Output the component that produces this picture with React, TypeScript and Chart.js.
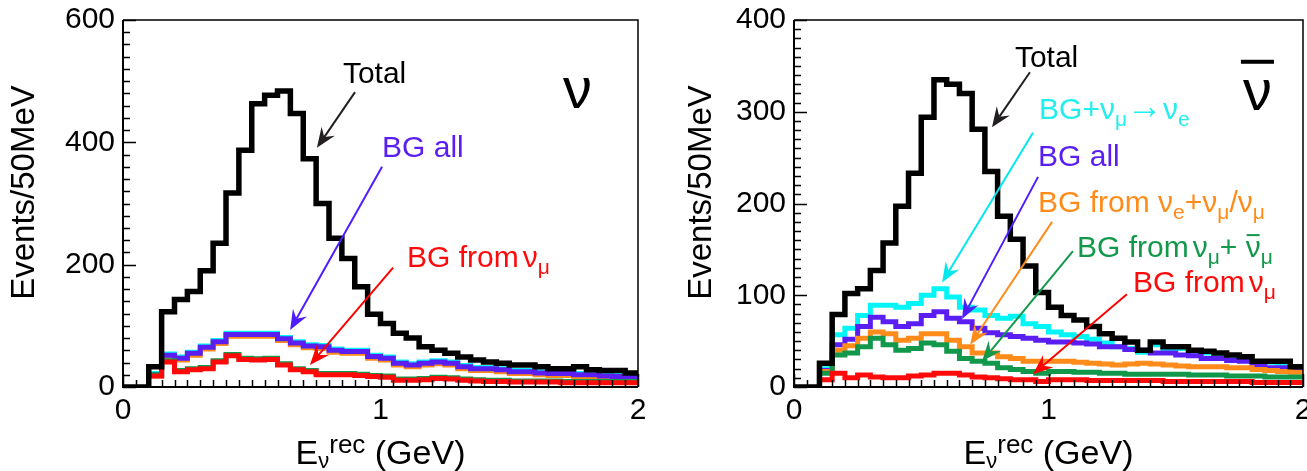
import React, { useEffect, useRef } from 'react';
import { Chart, registerables } from 'chart.js';

Chart.register(...registerables);

const FONT = '"Liberation Sans", Arial, Helvetica, sans-serif';

// ---- bin edges (GeV), 50 MeV bins ----
const binEdges = [0, 0.05, 0.1, 0.15, 0.2, 0.25, 0.3, 0.35, 0.4, 0.45, 0.5, 0.55, 0.6, 0.65, 0.7, 0.75, 0.8, 0.85, 0.9, 0.95, 1, 1.05, 1.1, 1.15, 1.2, 1.25, 1.3, 1.35, 1.4, 1.45, 1.5, 1.55, 1.6, 1.65, 1.7, 1.75, 1.8, 1.85, 1.9, 1.95, 2];

const xTickLabels = [0, 1, 2];
const nuYTicks = [0, 200, 400, 600];
const nbYTicks = [0, 100, 200, 300, 400];

// ---- neutrino mode (left) ----
const nuTotal = [0, 0, 33, 123, 143, 156, 190, 235, 317, 387, 463, 477, 484, 447, 373, 300, 243, 210, 164, 119, 104, 88, 80, 66, 60, 55, 49, 44, 41, 39, 36, 36, 33, 30, 30, 33, 28, 27, 27, 23];
const nuCyan = [null, null, 22, 54, 49, 57, 67, 76, 88, 88, 88, 88, 81, 74, 69, 68, 62, 60, 60, 52, 49, 41, 38, 41, 43, 41, 35, 32, 32, 30, 27, 27, 25, 24, 24, 22, 22, 20, 19, 18];
const nuPurple = [null, null, 20, 52, 47, 55, 65, 74, 86, 86, 86, 86, 79, 72, 67, 66, 60, 58, 58, 50, 47, 39, 36, 39, 41, 39, 33, 30, 30, 28, 25, 25, 23, 22, 22, 20, 20, 18, 17, 16];
const nuOrange = [null, null, 18, 49, 44, 52, 62, 71, 83, 83, 83, 83, 76, 69, 64, 63, 57, 55, 55, 47, 44, 36, 33, 36, 38, 36, 30, 27, 27, 25, 22, 22, 20, 19, 19, 17, 17, 15, 14, 13];
const nuGreen = [null, null, 20, 43, 27, 30, 32, 43, 53, 47, 46, 47, 38, 30, 27, 22, 22, 22, 21, 19, 18, 13, 13, 14, 16, 15, 13, 12, 11, 11, 10, 10, 10, 10, 9, 9, 9, 9, 9, 9];
const nuRed = [null, null, 18, 41, 25, 28, 30, 41, 51, 45, 44, 45, 36, 28, 25, 20, 20, 20, 19, 17, 16, 11, 11, 12, 14, 13, 11, 10, 9, 9, 8, 8, 8, 8, 7, 7, 7, 7, 7, 7];

// ---- antineutrino mode (right) ----
const nbTotal = [0, 0, 26, 79, 102, 107, 127, 157, 197, 233, 294, 335, 330, 320, 281, 235, 186, 161, 132, 103, 87, 78, 73, 66, 58, 53, 49, 40, 49, 44, 44, 40, 39, 37, 35, 33, 28, 28, 28, 22];
const nbCyan = [null, null, 20, 57, 64, 78, 89, 89, 87, 91, 100, 107, 98, 87, 84, 78, 75, 77, 69, 66, 60, 57, 55, 52, 48, 44, 42, 38, 46, 42, 42, 38, 37, 35, 33, 31, 27, 27, 26, 21];
const nbPurple = [null, null, 18, 46, 52, 66, 76, 71, 66, 69, 78, 82, 75, 71, 64, 59, 57, 55, 53, 51, 49, 49, 48, 47, 44, 44, 41, 40, 37, 37, 35, 34, 31, 31, 29, 28, 24, 21, 21, 20];
const nbOrange = [null, null, 17, 40, 45, 53, 60, 58, 51, 53, 58, 58, 51, 44, 37, 37, 33, 31, 28, 28, 28, 28, 27, 26, 25, 24, 25, 26, 25, 24, 23, 22, 22, 22, 21, 21, 19, 18, 17, 16];
const nbGreen = [null, null, 15, 35, 37, 44, 53, 46, 40, 42, 48, 46, 39, 31, 28, 26, 21, 19, 17, 15, 17, 17, 16, 16, 15, 15, 14, 14, 14, 14, 14, 13, 13, 13, 12, 12, 12, 11, 11, 11];
const nbRed = [null, null, 8, 15, 10, 13, 11, 10, 10, 12, 13, 15, 15, 13, 11, 10, 9, 8, 8, 6, 8, 8, 8, 7, 7, 7, 7, 7, 7, 6, 6, 6, 6, 6, 6, 6, 5, 5, 5, 5];

const C_BLACK = '#000000';
const C_CYAN = '#00f6f6';
const C_PURPLE = '#5a1ef2';
const C_ORANGE = '#ff8c1a';
const C_GREEN = '#11984a';
const C_RED = '#ff0a0a';

type Seg = { t: string; s: number; dy?: number; dx?: number; bar?: boolean; barOff?: number; barTh?: number; barExt?: number };
type Ann = { segs: Seg[]; x: number; y: number; color: string };
type Arr = { x1: number; y1: number; x2: number; y2: number; color: string };

const S = 30;
const SUB = 21;
const DY = 7;

const nuAnnotations: Ann[] = [
  { segs: [{ t: 'Total', s: S }], x: 0.854, y: 497, color: C_BLACK },
  { segs: [{ t: 'BG all', s: S }], x: 1.006, y: 376, color: C_PURPLE },
  { segs: [{ t: 'BG from', s: S }, { t: 'ν', s: S, dx: 4 }, { t: 'μ', s: SUB, dy: DY }], x: 1.103, y: 196, color: C_RED },
  { segs: [{ t: 'ν', s: 58 }], x: 1.709, y: 456, color: C_BLACK },
];
const nuArrows: Arr[] = [
  { x1: 0.901, y1: 482, x2: 0.753, y2: 391, color: '#231f20' },
  { x1: 1.006, y1: 360, x2: 0.649, y2: 93, color: '#4f1cff' },
  { x1: 1.049, y1: 195, x2: 0.726, y2: 36, color: '#ff0000' },
];

const nbAnnotations: Ann[] = [
  { segs: [{ t: 'Total', s: S }], x: 0.868, y: 349, color: C_BLACK },
  { segs: [{ t: 'BG+ν', s: S }, { t: 'μ', s: SUB, dy: DY }, { t: '→', s: 36, dy: -1 }, { t: 'ν', s: S }, { t: 'e', s: SUB, dy: DY }], x: 0.963, y: 292, color: '#22eeee' },
  { segs: [{ t: 'BG all', s: S }], x: 0.959, y: 241, color: C_PURPLE },
  { segs: [{ t: 'BG from ν', s: S }, { t: 'e', s: SUB, dy: DY }, { t: '+ν', s: S }, { t: 'μ', s: SUB, dy: DY }, { t: '/ν', s: S }, { t: 'μ', s: SUB, dy: DY }], x: 0.959, y: 191, color: C_ORANGE },
  { segs: [{ t: 'BG from', s: S }, { t: 'ν', s: S, dx: 4 }, { t: 'μ', s: SUB, dy: DY }, { t: '+ ', s: S }, { t: 'ν', s: S, bar: true }, { t: 'μ', s: SUB, dy: DY }], x: 1.112, y: 142, color: C_GREEN },
  { segs: [{ t: 'BG from', s: S }, { t: 'ν', s: S, dx: 4 }, { t: 'μ', s: SUB, dy: DY }], x: 1.332, y: 103, color: C_RED },
  { segs: [{ t: 'ν', s: 58, bar: true, barOff: 0.83, barTh: 4, barExt: 2 }], x: 1.764, y: 302, color: C_BLACK },
];
const nbArrows: Arr[] = [
  { x1: 0.927, y1: 343, x2: 0.778, y2: 283, color: '#231f20' },
  { x1: 0.939, y1: 277, x2: 0.582, y2: 114, color: '#00e8ee' },
  { x1: 0.959, y1: 229, x2: 0.660, y2: 74, color: '#4f1cff' },
  { x1: 1.014, y1: 180, x2: 0.692, y2: 46, color: C_ORANGE },
  { x1: 1.096, y1: 148, x2: 0.739, y2: 28, color: C_GREEN },
  { x1: 1.308, y1: 101, x2: 0.939, y2: 14, color: '#ff0000' },
];

type Series = { label: string; values: (number | null)[]; color: string; width: number };

interface PanelSpec {
  yMax: number;
  yTicks: number[];
  yMinorStep: number;
  yMajorStep: number;
  series: Series[];
  annotations: Ann[];
  arrows: Arr[];
  canvasWidth: number;
  canvasLeft: number;
  yAxisWidth: number;
  padRight: number;
  yTitleOffset: number;
}

const nuSpec: PanelSpec = {
  yMax: 600,
  yTicks: nuYTicks,
  yMinorStep: 20,
  yMajorStep: 200,
  series: [
    { label: 'Total', values: nuTotal, color: C_BLACK, width: 5.5 },
    { label: 'BG from νμ', values: nuRed, color: C_RED, width: 5 },
    { label: 'BG from νμ+ν̄μ', values: nuGreen, color: C_GREEN, width: 5 },
    { label: 'BG all', values: nuPurple, color: C_PURPLE, width: 5 },
    { label: 'BG from νe+νμ/ν̄μ', values: nuOrange, color: C_ORANGE, width: 5 },
    { label: 'BG+νμ→νe', values: nuCyan, color: C_CYAN, width: 5 },
  ],
  annotations: nuAnnotations,
  arrows: nuArrows,
  canvasWidth: 653,
  canvasLeft: 0,
  yAxisWidth: 123,
  padRight: 15,
  yTitleOffset: 98,
};

const nbSpec: PanelSpec = {
  yMax: 400,
  yTicks: nbYTicks,
  yMinorStep: 10,
  yMajorStep: 100,
  series: [
    { label: 'Total', values: nbTotal, color: C_BLACK, width: 5.5 },
    { label: 'BG from νμ', values: nbRed, color: C_RED, width: 5 },
    { label: 'BG from νμ+ν̄μ', values: nbGreen, color: C_GREEN, width: 5 },
    { label: 'BG from νe+νμ/ν̄μ', values: nbOrange, color: C_ORANGE, width: 5 },
    { label: 'BG all', values: nbPurple, color: C_PURPLE, width: 5 },
    { label: 'BG+νμ→νe', values: nbCyan, color: C_CYAN, width: 5 },
  ],
  annotations: nbAnnotations,
  arrows: nbArrows,
  canvasWidth: 654,
  canvasLeft: 653,
  yAxisWidth: 141,
  padRight: 4,
  yTitleOffset: 92,
};

function drawRich(ctx: CanvasRenderingContext2D, segs: Seg[], x: number, y: number, color: string, doDraw = true): number {
  let cx = x;
  ctx.fillStyle = color;
  ctx.textAlign = 'left';
  ctx.textBaseline = 'alphabetic';
  for (const g of segs) {
    cx += g.dx || 0;
    ctx.font = `${g.s}px ${FONT}`;
    const w = ctx.measureText(g.t).width;
    const by = y + (g.dy || 0);
    if (doDraw) {
      ctx.fillText(g.t, cx, by);
      if (g.bar) {
        const off = g.barOff ?? 0.72;
        const th = g.barTh ?? 2;
        const ext = g.barExt ?? -1;
        ctx.fillRect(cx - ext, by - g.s * off - th / 2, w + 2 * ext, th);
      }
    }
    cx += w;
  }
  return cx - x;
}

function drawArrow(ctx: CanvasRenderingContext2D, x1: number, y1: number, x2: number, y2: number, color: string) {
  const ang = Math.atan2(y2 - y1, x2 - x1);
  const L = 20, H = 8, N = 13;
  const c = Math.cos(ang), s = Math.sin(ang);
  ctx.strokeStyle = color;
  ctx.fillStyle = color;
  ctx.lineWidth = 2;
  ctx.beginPath();
  ctx.moveTo(x1, y1);
  ctx.lineTo(x2 - c * N, y2 - s * N);
  ctx.stroke();
  const bx = x2 - c * L, by = y2 - s * L;
  ctx.beginPath();
  ctx.moveTo(x2, y2);
  ctx.lineTo(bx + s * H, by - c * H);
  ctx.lineTo(x2 - c * N, y2 - s * N);
  ctx.lineTo(bx - s * H, by + c * H);
  ctx.closePath();
  ctx.fill();
}

function makeDecor(spec: PanelSpec) {
  return {
    id: 'decor',
    afterDatasetsDraw(chart: any) {
      const ctx: CanvasRenderingContext2D = chart.ctx;
      const { left, right, top, bottom } = chart.chartArea;
      const xs = chart.scales.x;
      const ys = chart.scales.y;
      ctx.save();
      ctx.strokeStyle = '#000';
      ctx.lineWidth = 1.5;
      ctx.beginPath();
      ctx.moveTo(left, top);
      ctx.lineTo(right, top);
      ctx.lineTo(right, bottom);
      ctx.stroke();
      ctx.lineWidth = 2;
      ctx.beginPath();
      ctx.moveTo(left, top);
      ctx.lineTo(left, bottom);
      ctx.lineTo(right, bottom);
      ctx.stroke();
      ctx.lineWidth = 1.5;
      ctx.beginPath();
      for (let k = 0; k <= 40; k++) {
        const v = k * 0.05;
        const px = Math.round(xs.getPixelForValue(v)) + 0.5;
        const major = k % 20 === 0;
        ctx.moveTo(px, bottom);
        ctx.lineTo(px, bottom - (major ? 13 : 7));
      }
      const nY = Math.round(spec.yMax / spec.yMinorStep);
      for (let k = 0; k <= nY; k++) {
        const v = k * spec.yMinorStep;
        const py = Math.round(ys.getPixelForValue(v)) + 0.5;
        const major = Math.abs(v % spec.yMajorStep) < 1e-6;
        ctx.moveTo(left, py);
        ctx.lineTo(left + (major ? 13 : 7), py);
      }
      ctx.stroke();
      ctx.restore();
    },
    afterDraw(chart: any) {
      const ctx: CanvasRenderingContext2D = chart.ctx;
      const { left, right, top, bottom } = chart.chartArea;
      const xs = chart.scales.x;
      const ys = chart.scales.y;
      ctx.save();
      for (const a of spec.arrows) {
        drawArrow(ctx, xs.getPixelForValue(a.x1), ys.getPixelForValue(a.y1), xs.getPixelForValue(a.x2), ys.getPixelForValue(a.y2), a.color);
      }
      for (const a of spec.annotations) {
        drawRich(ctx, a.segs, xs.getPixelForValue(a.x), ys.getPixelForValue(a.y), a.color);
      }
      const xt: Seg[] = [
        { t: 'E', s: 34 },
        { t: 'ν', s: 22, dy: 4 },
        { t: 'rec', s: 26, dy: -11 },
        { t: ' (GeV)', s: 34 },
      ];
      const w = drawRich(ctx, xt, 0, 0, '#000', false);
      drawRich(ctx, xt, (left + right) / 2 - w / 2, bottom + 77, '#000');
      ctx.save();
      ctx.translate(left - spec.yTitleOffset, (top + bottom) / 2 - 11);
      ctx.rotate(-Math.PI / 2);
      ctx.fillStyle = '#000';
      ctx.font = `33px ${FONT}`;
      ctx.textAlign = 'center';
      ctx.textBaseline = 'middle';
      ctx.fillText('Events/50MeV', 0, 0);
      ctx.restore();
      ctx.restore();
    },
  };
}

function Panel({ spec }: { spec: PanelSpec }) {
  const ref = useRef<HTMLCanvasElement | null>(null);
  useEffect(() => {
    if (!ref.current) return;
    const datasets = spec.series.map((s) => ({
      label: s.label,
      data: binEdges.map((x, i) => ({ x, y: s.values[Math.min(i, s.values.length - 1)] })),
      stepped: true,
      borderColor: s.color,
      backgroundColor: s.color,
      borderWidth: s.width,
      pointRadius: 0,
      fill: false,
      spanGaps: false,
      borderJoinStyle: 'miter',
      borderCapStyle: 'butt',
    }));
    const tickFont = { family: FONT, size: 30 };
    const chart = new Chart(ref.current, {
      type: 'line',
      data: { datasets } as any,
      options: {
        animation: false,
        responsive: false,
        maintainAspectRatio: false,
        layout: { padding: { left: 0, top: 20, right: spec.padRight, bottom: 0 } },
        plugins: { legend: { display: false }, tooltip: { enabled: false } },
        scales: {
          x: {
            type: 'linear',
            min: 0,
            max: 2,
            afterBuildTicks: (s: any) => { s.ticks = xTickLabels.map((v) => ({ value: v })); },
            grid: { display: false, drawTicks: false },
            border: { display: false },
            ticks: { font: tickFont, color: '#000', padding: 6, maxRotation: 0, autoSkip: false },
            afterFit: (s: any) => { s.height = 84; s.paddingLeft = 0; s.paddingRight = 0; },
          },
          y: {
            type: 'linear',
            min: 0,
            max: spec.yMax,
            afterBuildTicks: (s: any) => { s.ticks = spec.yTicks.map((v) => ({ value: v })); },
            grid: { display: false, drawTicks: false },
            border: { display: false },
            ticks: { font: tickFont, color: '#000', padding: 8, autoSkip: false },
            afterFit: (s: any) => { s.width = spec.yAxisWidth; s.paddingTop = 0; s.paddingBottom = 0; },
          },
        },
      } as any,
      plugins: [makeDecor(spec)],
    });
    return () => chart.destroy();
  }, [spec]);
  return (
    <canvas
      ref={ref}
      width={spec.canvasWidth}
      height={471}
      style={{ position: 'absolute', left: spec.canvasLeft, top: 0, width: spec.canvasWidth, height: 471 }}
    />
  );
}

export default function App() {
  return (
    <div style={{ position: 'absolute', left: 0, top: 0, width: 1307, height: 471, background: '#fff', overflow: 'hidden' }}>
      <Panel spec={nuSpec} />
      <Panel spec={nbSpec} />
    </div>
  );
}
